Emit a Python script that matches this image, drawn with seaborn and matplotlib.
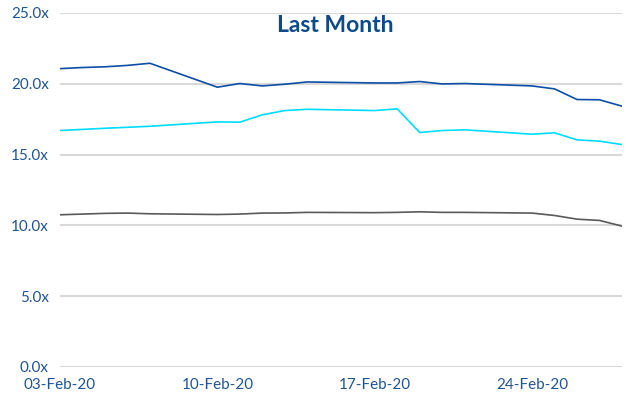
import matplotlib
matplotlib.use("Agg")
import matplotlib.pyplot as plt
import matplotlib.dates as mdates
import matplotlib.ticker as mticker
import seaborn as sns
import pandas as pd

dates = ["2020-02-03", "2020-02-04", "2020-02-05", "2020-02-06", "2020-02-07",
         "2020-02-10", "2020-02-11", "2020-02-12", "2020-02-13", "2020-02-14",
         "2020-02-17", "2020-02-18", "2020-02-19", "2020-02-20", "2020-02-21",
         "2020-02-24", "2020-02-25", "2020-02-26", "2020-02-27", "2020-02-28"]

series_a = [21.07, 21.15, 21.2, 21.3, 21.45,
            19.76, 20.02, 19.85, 19.97, 20.13,
            20.06, 20.06, 20.16, 19.99, 20.02,
            19.85, 19.64, 18.89, 18.87, 18.42]
series_b = [16.70, 16.78, 16.86, 16.93, 17.0,
            17.31, 17.29, 17.81, 18.11, 18.2,
            18.11, 18.23, 16.56, 16.70, 16.75,
            16.44, 16.54, 16.04, 15.95, 15.71]
series_c = [10.75, 10.80, 10.85, 10.87, 10.82,
            10.77, 10.80, 10.87, 10.88, 10.92,
            10.90, 10.92, 10.96, 10.92, 10.92,
            10.87, 10.70, 10.44, 10.35, 9.95]

names = ["Series A", "Series B", "Series C"]
colors = ["#0d4ea6", "#00dcff", "#5a5a5a"]
tick_dates = ["2020-02-03", "2020-02-10", "2020-02-17", "2020-02-24"]
y_ticks = [0, 5, 10, 15, 20, 25]
title = "Last Month"

df = pd.DataFrame({
    "date": pd.to_datetime(dates * 3),
    "value": series_a + series_b + series_c,
    "series": [names[0]] * len(dates) + [names[1]] * len(dates) + [names[2]] * len(dates),
})

sns.set_theme(style="white")
plt.rcParams["font.family"] = ["Lato", "DejaVu Sans"]

text_color = "#1f5596"
title_color = "#0d4a8c"
fig = plt.figure(figsize=(6.27, 4.07), dpi=100)
ax = fig.add_axes([60 / 627, 1 - 367 / 407, (622 - 60) / 627, (367 - 13) / 407])

sns.lineplot(data=df, x="date", y="value", hue="series", palette=colors,
             linewidth=1.2, legend=False, ax=ax)

ax.set_ylim(0, 25)
ax.set_xlim(pd.Timestamp("2020-02-03"), pd.Timestamp("2020-02-28"))
ax.set_yticks(y_ticks)
ax.yaxis.set_major_formatter(mticker.FuncFormatter(lambda v, p: f"{v:.1f}x"))
ax.set_xticks(pd.to_datetime(tick_dates))
ax.xaxis.set_major_formatter(mdates.DateFormatter("%d-%b-%y"))

ax.grid(axis="y", color="#d9d9d9", linewidth=1.5)
ax.set_axisbelow(True)
for s in ax.spines.values():
    s.set_visible(False)
ax.tick_params(axis="both", length=0, labelsize=11, labelcolor=text_color)
ax.tick_params(axis="y", pad=8)
ax.tick_params(axis="x", pad=8)
ax.set_xlabel("")
ax.set_ylabel("")

ax.text(0.49, 0.966, title, transform=ax.transAxes, ha="center", va="center",
        fontsize=16.5, fontweight="bold", color=title_color)

fig.savefig("out.png", dpi=100)
